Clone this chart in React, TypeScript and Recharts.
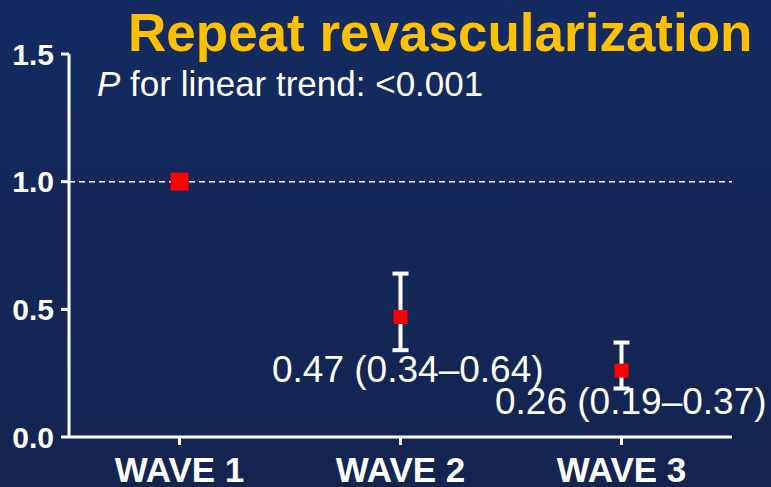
import { ComposedChart, Scatter, XAxis, YAxis, ErrorBar, ReferenceLine } from 'recharts';

const waves = ['WAVE 1', 'WAVE 2', 'WAVE 3'];
const hazardRatio = [1.0, 0.47, 0.26];
const ciLower: (number | null)[] = [null, 0.34, 0.19];
const ciUpper: (number | null)[] = [null, 0.64, 0.37];
const yTicks = [0, 0.5, 1.0, 1.5];

const title = 'Repeat revascularization';
const trendText = 'for linear trend: <0.001';

const fontFamily = '"Liberation Sans", Arial, sans-serif';

const data = waves.map((wave, i) => ({
  wave,
  hr: hazardRatio[i],
  err: ciLower[i] == null ? null : [hazardRatio[i] - (ciLower[i] as number), (ciUpper[i] as number) - hazardRatio[i]],
}));

const fmt = (v: number) => v.toFixed(2);
const annotations = data
  .map((d, i) => (ciLower[i] == null ? null : `${fmt(d.hr)} (${fmt(ciLower[i] as number)}–${fmt(ciUpper[i] as number)})`));

const Marker = (props: any) => {
  const { cx, cy, payload } = props;
  if (cx == null || cy == null) return null;
  // reference wave has no CI and a bigger marker
  const s = payload.err ? 14 : 18;
  return <rect x={cx - s / 2} y={cy - s / 2} width={s} height={s} fill="#ff0000" />;
};

export default function App() {
  return (
    <div
      style={{
        position: 'fixed',
        left: 0,
        top: 0,
        width: 771,
        height: 487,
        background: 'linear-gradient(180deg, #132b61 0%, #13244f 100%)',
        overflow: 'hidden',
      }}
    >
      <ComposedChart width={771} height={487} data={data} margin={{ top: 54, right: 39, left: 0, bottom: 0 }}>
        <XAxis
          dataKey="wave"
          scale="band"
          height={50}
          axisLine={{ stroke: '#ffffff', strokeWidth: 3 }}
          tickLine={{ stroke: '#ffffff', strokeWidth: 3 }}
          tickSize={8}
          tickMargin={12}
          tick={{ fill: '#ffffff', fontSize: 35, fontWeight: 'bold', fontFamily }}
        />
        <YAxis
          type="number"
          domain={[0, 1.5]}
          ticks={yTicks}
          interval={0}
          width={69}
          axisLine={{ stroke: '#ffffff', strokeWidth: 3 }}
          tickLine={{ stroke: '#ffffff', strokeWidth: 3 }}
          tickSize={8}
          tickMargin={7}
          tickFormatter={(v: number) => v.toFixed(1)}
          tick={{ fill: '#ffffff', fontSize: 30, fontWeight: 'bold', fontFamily }}
        />
        <ReferenceLine y={1} stroke="#ffffff" strokeWidth={1.5} strokeDasharray="6 4" />
        <Scatter dataKey="hr" shape={Marker} isAnimationActive={false}>
          <ErrorBar dataKey="err" direction="y" width={8} stroke="#ffffff" strokeWidth={4} isAnimationActive={false} />
        </Scatter>
      </ComposedChart>
      <svg width={771} height={487} style={{ position: 'absolute', left: 0, top: 0, pointerEvents: 'none' }}>
        <text x={128} y={51} fill="#ffc000" fontSize={53} fontWeight="bold" fontFamily={fontFamily}>
          {title}
        </text>
        <text x={97} y={96} fill="#ffffff" fontSize={35} fontFamily={fontFamily}>
          <tspan fontStyle="italic">P</tspan> {trendText}
        </text>
        <text x={272} y={382} fill="#ffffff" fontSize={37} fontFamily={fontFamily}>
          {annotations[1]}
        </text>
        <text x={495} y={414} fill="#ffffff" fontSize={37} fontFamily={fontFamily}>
          {annotations[2]}
        </text>
      </svg>
    </div>
  );
}
